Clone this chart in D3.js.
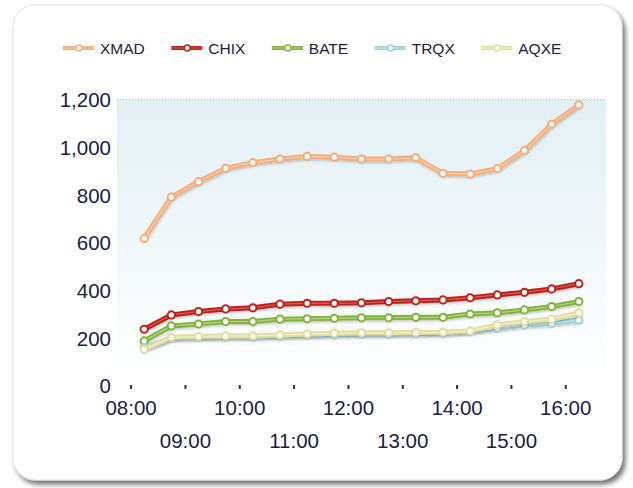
<!DOCTYPE html>
<html>
<head>
<meta charset="utf-8">
<script src="https://cdn.jsdelivr.net/npm/d3@7"></script>
<style>
html,body{margin:0;padding:0;background:#fff;}
svg{display:block;}
text{font-family:"Liberation Sans",Arial,sans-serif;}
</style>
</head>
<body>
<svg id="chart" width="633" height="488"></svg>
<script>
// ---- data ----
const times = ["08:15","08:45","09:15","09:45","10:15","10:45","11:15","11:45","12:15",
               "12:45","13:15","13:45","14:15","14:45","15:15","15:45","16:15"];
const seriesNames = ["XMAD","CHIX","BATE","TRQX","AQXE"];
const XMAD = [615,788,853,909,933,948,959,956,948,948,953,888,885,908,983,1094,1175];
const CHIX = [234,294,308,319,324,339,343,343,345,350,353,357,366,378,389,403,425];
const BATE = [185,248,256,266,266,276,278,280,282,282,284,284,298,303,315,329,350];
const TRQX = [158,196,199,201,201,205,208,211,213,213,215,217,224,238,252,259,273];
const AQXE = [150,200,203,206,206,210,214,217,219,219,220,221,227,252,266,276,303];
const xTickLabels = ["08:00","09:00","10:00","11:00","12:00","13:00","14:00","15:00","16:00"];
const yTicks = [0,200,400,600,800,1000,1200];

const colors = {
  XMAD:{outer:"#f2ad7c", inner:"#fcd3b4"},
  CHIX:{outer:"#b9241e", inner:"#e2665c"},
  BATE:{outer:"#82b23c", inner:"#b9dc86"},
  TRQX:{outer:"#9ccfd8", inner:"#d6f0f3"},
  AQXE:{outer:"#e1dd9e", inner:"#f7f5d6"}
};
const seriesData = {XMAD, CHIX, BATE, TRQX, AQXE};

// ---- layout ----
const svg = d3.select("#chart");
const plot = {left:117, right:606, top:99, bottom:385};
const parse = d3.timeParse("%H:%M");

const x = d3.scaleTime()
  .domain([parse("07:45"), parse("16:45")])
  .range([plot.left, plot.right]);
const y = d3.scaleLinear().domain([0,1200]).range([plot.bottom, plot.top]);

const defs = svg.append("defs");
const cardShadow = defs.append("filter").attr("id","cardShadow")
  .attr("x","-5%").attr("y","-5%").attr("width","112%").attr("height","112%");
cardShadow.append("feDropShadow").attr("dx",3).attr("dy",4).attr("stdDeviation",2.5)
  .attr("flood-color","#000").attr("flood-opacity",0.55);

const lineShadow = defs.append("filter").attr("id","lineShadow")
  .attr("x","-5%").attr("y","-20%").attr("width","110%").attr("height","140%");
lineShadow.append("feDropShadow").attr("dx",0.5).attr("dy",1.5).attr("stdDeviation",1)
  .attr("flood-color","#000").attr("flood-opacity",0.22);

const axShadow = defs.append("filter").attr("id","axShadow")
  .attr("x","-20%").attr("y","-20%").attr("width","140%").attr("height","140%");
axShadow.append("feDropShadow").attr("dx",1.5).attr("dy",1.5).attr("stdDeviation",1)
  .attr("flood-color","#000").attr("flood-opacity",0.4);

const bgGrad = defs.append("linearGradient").attr("id","bgGrad")
  .attr("x1",0).attr("y1",0).attr("x2",0).attr("y2",1);
bgGrad.append("stop").attr("offset","0%").attr("stop-color","#e2eff3");
bgGrad.append("stop").attr("offset","100%").attr("stop-color","#ffffff");

// card
svg.append("rect")
  .attr("x",13).attr("y",5).attr("width",609).attr("height",475)
  .attr("rx",22).attr("ry",22)
  .attr("fill","#fff").attr("stroke","#e2e2e2").attr("stroke-width",1)
  .attr("filter","url(#cardShadow)");

// plot background
svg.append("rect")
  .attr("x",plot.left).attr("y",plot.top)
  .attr("width",plot.right-plot.left).attr("height",plot.bottom-plot.top)
  .attr("fill","url(#bgGrad)");

// top dotted border
svg.append("line")
  .attr("x1",plot.left).attr("x2",plot.right).attr("y1",plot.top+0.5).attr("y2",plot.top+0.5)
  .attr("stroke","#9fc6cc").attr("stroke-width",1).attr("stroke-dasharray","1,2");
// right dotted border
svg.append("line")
  .attr("x1",plot.right).attr("x2",plot.right).attr("y1",plot.top+4).attr("y2",plot.bottom)
  .attr("stroke","#5a5a5a").attr("stroke-width",2).attr("stroke-dasharray","2,1")
  .attr("filter","url(#axShadow)");

// axes
const textColor = "#1d2040";
const xAxis = d3.axisBottom(x)
  .tickValues(xTickLabels.map(parse))
  .tickFormat(d3.timeFormat("%H:%M"))
  .tickSize(4).tickSizeOuter(0);
const gx = svg.append("g").attr("transform",`translate(0,${plot.bottom})`).call(xAxis);
gx.select(".domain").attr("stroke","#5f5f5f").attr("stroke-width",2)
  .attr("d",`M${plot.left},0H${plot.right}`).attr("filter","url(#axShadow)");
gx.selectAll(".tick line").attr("stroke","#333").attr("stroke-width",2);
gx.selectAll(".tick text")
  .attr("fill",textColor).attr("font-size","20.5px")
  .attr("dy",null)
  .attr("y",(d,i)=> i%2===0 ? 30 : 63);

const yAxis = d3.axisLeft(y).tickValues(yTicks).tickFormat(d3.format(",")).tickSize(0).tickPadding(6);
const gy = svg.append("g").attr("transform",`translate(${plot.left},0)`).call(yAxis);
gy.select(".domain").attr("stroke","#5f5f5f").attr("stroke-width",2)
  .attr("d",`M0,${plot.top}V${plot.bottom}`).attr("filter","url(#axShadow)");
gy.selectAll(".tick text").attr("fill",textColor).attr("font-size","20.5px")
  .attr("dy","0.38em");

// lines
const line = d3.line()
  .x((d,i)=>x(parse(times[i])))
  .y(d=>y(d));

seriesNames.forEach(name=>{
  const vals = seriesData[name];
  const c = colors[name];
  const g = svg.append("g").attr("class","series "+name);
  g.append("path").datum(vals).attr("d",line)
    .attr("fill","none").attr("stroke",c.outer).attr("stroke-width",5)
    .attr("stroke-linejoin","round").attr("stroke-linecap","round")
    .attr("filter","url(#lineShadow)");
  g.append("path").datum(vals).attr("d",line)
    .attr("fill","none").attr("stroke",c.inner).attr("stroke-width",1.3)
    .attr("stroke-linejoin","round").attr("opacity",0.8);
  g.selectAll("circle").data(vals).join("circle")
    .attr("cx",(d,i)=>x(parse(times[i]))).attr("cy",d=>y(d))
    .attr("r",3.6)
    .attr("fill","#fffdf8").attr("stroke",c.outer).attr("stroke-width",2);
});

// legend
const legend = svg.append("g").attr("class","legend");
let lx = 63;
const ly = 48;
seriesNames.forEach(name=>{
  const c = colors[name];
  const item = legend.append("g");
  item.append("line").attr("x1",lx).attr("x2",lx+31).attr("y1",ly).attr("y2",ly)
    .attr("stroke",c.outer).attr("stroke-width",4);
  item.append("line").attr("x1",lx).attr("x2",lx+31).attr("y1",ly).attr("y2",ly)
    .attr("stroke",c.inner).attr("stroke-width",1).attr("opacity",0.8);
  item.append("circle").attr("cx",lx+16).attr("cy",ly).attr("r",3)
    .attr("fill","#fffdf8").attr("stroke",c.outer).attr("stroke-width",1.5);
  const t = item.append("text").attr("x",lx+37).attr("y",ly).attr("dy","0.36em")
    .attr("font-size","15.5px").attr("fill",textColor).text(name);
  lx = lx + 37 + t.node().getComputedTextLength() + 26.5;
});
</script>
</body>
</html>
